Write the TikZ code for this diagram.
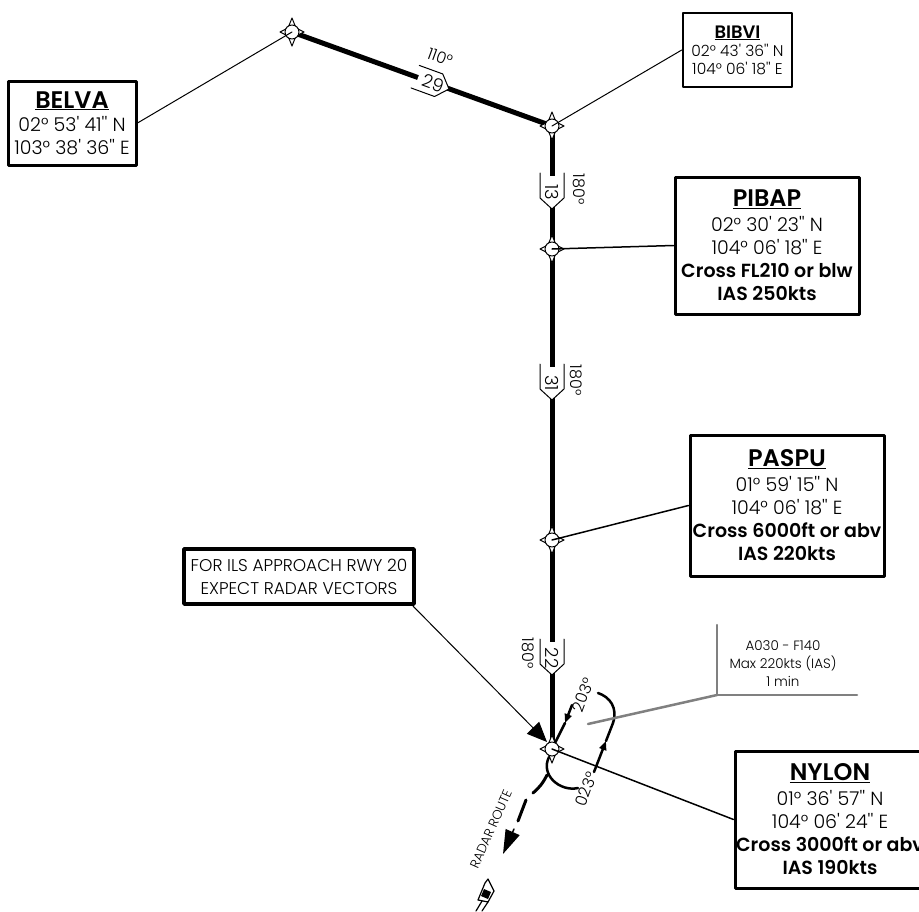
\documentclass[tikz,border=0pt]{standalone}
\usepackage{fontspec}
\setmainfont{Poppins Light}[BoldFont=Poppins SemiBold]
\usetikzlibrary{arrows.meta}
\tikzset{
  fixnode/.style={circle,draw,fill=white,line width=1pt,inner sep=0pt,minimum size=14pt},
  wptbox/.style={draw,line width=3pt,fill=white,align=center,inner sep=0pt,font=\fontsize{19}{23}\selectfont},
  trk/.style={font=\fontsize{16}{18}\selectfont,inner sep=0pt},
  legbox/.pic={
    \fill [white] (-12,-33)-- (12,-33)-- (12,-11)-- (0,0)-- (-12,-11)-- cycle;
    \draw [line width=1pt] (-12,-36)-- (-12,-11)-- (0,0)-- (12,-11)-- (12,-36);
    \node [trk,font=\fontsize{18}{20}\selectfont,rotate=-90,transform shape] (legtext) at (0,-17) {#1};
  }
}
\newcommand{\wptname}[1]{\fontsize{24}{30}\selectfont\bfseries\underline{#1}}
\newcommand{\am}{\textquotesingle{}}
\newcommand{\as}{\textquotesingle\textquotesingle{}}
\begin{document}
\begin{tikzpicture}[line cap=round,line join=round,x=1pt,y=-1pt]
    \useasboundingbox (0,0) rectangle (919,911);
    \clip (0,0) rectangle (919,911);
    % fixes
    \coordinate (BELVAfix) at (292,32);
    \coordinate (BIBVIfix) at (552,126);
    \coordinate (PIBAPfix) at (552,249);
    \coordinate (PASPUfix) at (552,540);
    \coordinate (NYLONfix) at (552,749);
    % tracks
    \draw [line width=5pt] (BELVAfix)-- (BIBVIfix);
    \draw [line width=5pt] (BIBVIfix)-- (PIBAPfix);
    \draw [line width=5pt] (PIBAPfix)-- (PASPUfix);
    \draw [line width=5pt] (PASPUfix)-- (NYLONfix);
    \pic [rotate=70] at (449,89) {legbox={29}};
    \pic at (552,209) {legbox={13}};
    \pic at (552,400) {legbox={31}};
    \pic at (552,675) {legbox={22}};
    \node [trk,rotate=-20] (trkA) at (440,57) {110°};
    \node [trk,rotate=-90] (trkB) at (579,189) {180°};
    \node [trk,rotate=-90] (trkC) at (576,380) {180°};
    \node [trk,rotate=-90] (trkD) at (528,653) {180°};
    % fix symbols
    \foreach \f in {BELVA,BIBVI,PIBAP,PASPU,NYLON} {
      \draw [line width=1pt,fill=white] (\f fix) ++(0,-14)-- ++(4,10)-- ++(8,4)-- ++(-8,4)-- ++(-4,10)-- ++(-4,-10)-- ++(-8,-4)-- ++(8,-4)-- cycle;
      \node [fixnode] (\f) at (\f fix) {};
    }
    % boxes
    \node [wptbox,minimum width=128pt,minimum height=84pt] (BELVAbox) at (72,123) {\wptname{BELVA}\\02° 53\am{} 41\as{} N\\103° 38\am{} 36\as{} E};
    \node [wptbox,line width=2.5pt,minimum width=109pt,minimum height=74pt,font=\fontsize{15.5}{18}\selectfont] (BIBVIbox) at (737.5,50) {{\fontsize{18}{21}\selectfont\bfseries\underline{BIBVI}}\\02° 43\am{} 36\as{} N\\104° 06\am{} 18\as{} E};
    \node [wptbox,minimum width=184pt,minimum height=137pt] (PIBAPbox) at (767,245.5) {\wptname{PIBAP}\\[2pt]02° 30\am{} 23\as{} N\\104° 06\am{} 18\as{} E\\\textbf{Cross FL210 or blw}\\\textbf{IAS 250kts}};
    \node [wptbox,minimum width=194pt,minimum height=141pt] (PASPUbox) at (787,505.5) {\wptname{PASPU}\\[2pt]01° 59\am{} 15\as{} N\\104° 06\am{} 18\as{} E\\\textbf{Cross 6000ft or abv}\\\textbf{IAS 220kts}};
    \node [wptbox,minimum width=190pt,minimum height=137pt] (NYLONbox) at (830,819.5) {\wptname{NYLON}\\[2pt]01° 36\am{} 57\as{} N\\104° 06\am{} 24\as{} E\\\textbf{Cross 3000ft or abv}\\\textbf{IAS 190kts}};
    \node [wptbox,line width=3.5pt,minimum width=230pt,minimum height=55pt,font=\fontsize{17}{23}\selectfont] (NOTEbox) at (299,576.5) {FOR ILS APPROACH RWY 20\\EXPECT RADAR VECTORS};
    % leaders
    \draw [line width=1pt] (BELVAbox.east)-- (BELVA.center);
    \draw [line width=1pt] (BIBVIbox.west)-- (BIBVI.center);
    \draw [line width=1.5pt] (PIBAPbox.west)-- (PIBAP.center);
    \draw [line width=1.5pt] (PASPUbox.west)-- (PASPU.center);
    \draw [line width=1.5pt] (NYLONbox.west)-- (NYLON.center);
    \coordinate (NOTEend) at (411,604);
    \coordinate (NOTEtip) at (547,742);
    \draw [line width=1pt,-{Triangle[length=20pt,width=17pt]}] (NOTEend)-- (NOTEtip);
    % holding pattern
    \coordinate (HOLDa) at (572,705);
    \coordinate (HOLDb) at (594,772);
    \coordinate (HOLDc) at (613,723);
    \coordinate (HOLDd) at (598,693);
    \coordinate (HOLDe) at (578,788);
    \coordinate (HOLDf) at (549,757);
    \draw [line width=2.5pt,-{Triangle[length=9pt,width=7pt]}] (HOLDa)-- (565,723);
    \draw [line width=2.5pt] (565,723)-- (NYLON);
    \draw [line width=2.5pt,-{Triangle[length=9pt,width=7pt]}] (HOLDb)-- (606,741);
    \draw [line width=2.5pt] (606,741)-- (HOLDc);
    \draw [line width=2.5pt] (HOLDc).. controls (618,708) and (610,697) .. (HOLDd);
    \draw [line width=2.5pt] (HOLDe).. controls (560,792) and (540,775) .. (HOLDf);
    \node [trk,rotate=70] (holdA) at (583,695) {203°};
    \node [trk,rotate=70] (holdB) at (586,789) {023°};
    % radar route
    \draw [line width=3pt] (547,775).. controls (543,783) and (539,788) .. (533,793);
    \draw [line width=3pt] (526,800)-- (518,821);
    \coordinate (RADARa) at (514,829);
    \coordinate (RADARb) at (503,854);
    \draw [line width=1.5pt,-{Triangle[length=24pt,width=15pt]}] (RADARa)-- (RADARb);
    \node [trk,font=\fontsize{13}{15}\selectfont,rotate=66] (radartext) at (491,829) {RADAR ROUTE};
    % aircraft
    \draw [line width=1.2pt,fill=white] (488,879)-- (494,891)-- (488,902)-- (478,900)-- (485,883)-- cycle;
    \fill (484,889)-- (491,892)-- (488,899)-- (481,896)-- cycle;
    \draw [line width=1.2pt] (482,901)-- (476,911);
    \draw [line width=1.2pt] (488,902)-- (482,911);
    % holding info
    \draw [line width=2.5pt,color=gray] (588,724)-- (717,695);
    \draw [line width=2.5pt,color=gray] (717,625)-- (717,695);
    \draw [line width=2.5pt,color=gray] (717,695)-- (857,695);
    \node [trk,font=\fontsize{13.5}{18}\selectfont,align=center] (holdinfo) at (783,664) {A030 - F140\\Max 220kts (IAS)\\1 min};
\end{tikzpicture}
\end{document}
